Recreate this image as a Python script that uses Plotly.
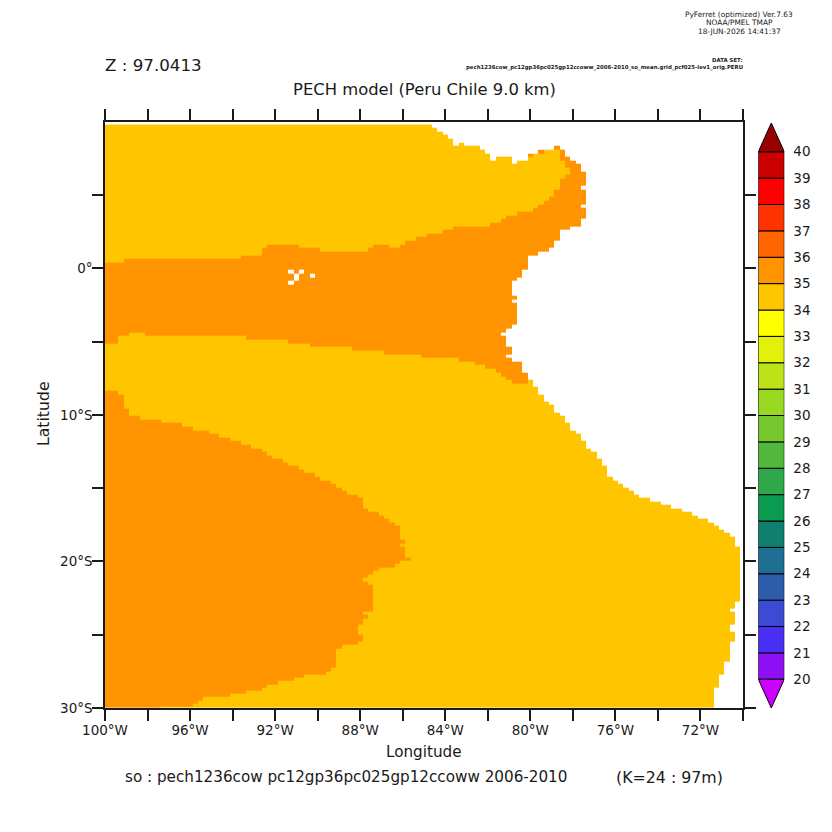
import numpy as np
import plotly.graph_objects as go

# ==========================
# DATA
# ==========================

# colour levels, 20-21 up to 39-40, plus the two end triangles
levels = list(range(20, 40))
level_colors = [
    "#9010f5", "#4a30f5", "#3c4bd4", "#2c5caa", "#1f6f94",
    "#0f8070", "#0a9a50", "#2ea84a", "#52b83e", "#76c82e",
    "#98d921", "#bde318", "#e3f00a", "#ffff00", "#ffc600",
    "#ff9400", "#ff6600", "#ff3300", "#ff0000", "#cc0000",
]
under_color = "#cc00ff"
over_color = "#990000"
bar_labels = list(range(20, 41))

SALT_LOW = 34.5
SALT_HIGH = 35.5

# north edge of the data, by longitude
north_lon = [-100, -84.625, -84.375, -84.125, -83.875, -83.625, -83.375, -83.125,
             -82.375, -82.125, -81.875, -81.625, -80.875, -80.625, -80.125, -79.625,
             -78.875, -78.625, -78.375, -78.125, -77.875, -77.625]
north_lat = [9.8, 9.59, 9.32, 9.11, 8.84, 8.36, 8.57, 8.36,
             8.09, 7.82, 7.34, 7.61, 7.14, 7.34, 7.82, 8.09,
             8.36, 8.09, 7.61, 7.34, 7.14, 6.59]

# east edge of the data (the coast), by latitude going south
coast_lat = [10, 5.64, 5.36, 4.34, 4.14, 3.39, 2.84, 2.64, 1.89, 1.41, 1.14, 0.86,
             -0.09, -0.64, -0.84, -1.86, -2.14, -2.34, -3.84, -4.11, -4.39, -4.59,
             -5.34, -5.89, -6.09, -6.36, -7.11, -7.59, -8.07, -8.61, -9.09, -9.30,
             -9.84, -10.05, -10.52, -11.07, -11.27, -11.75, -12.30, -12.50, -12.98,
             -13.45, -14.20, -14.48, -14.68, -14.95, -15.16, -15.43, -15.64, -15.91,
             -16.11, -16.39, -16.59, -16.86, -17.07, -17.34, -17.55, -17.82, -18.02,
             -18.30, -18.98, -22.73, -23.20, -23.41, -24.30, -24.77, -25.45, -26.82,
             -27.70, -28.59]
coast_lon = [-77.375, -77.625, -77.375, -77.625, -77.375, -77.625, -78.125, -78.625,
             -78.875, -79.125, -79.625, -80.125, -80.375, -80.625, -80.875, -80.625,
             -80.875, -80.625, -80.875, -81.125, -81.375, -81.125, -80.875, -81.125,
             -80.875, -80.375, -80.125, -79.875, -79.625, -79.375, -79.125, -78.875,
             -78.625, -78.375, -78.125, -77.875, -77.625, -77.375, -77.125, -76.875,
             -76.625, -76.375, -76.125, -75.875, -75.625, -75.375, -75.125, -74.875,
             -74.375, -73.875, -73.375, -72.875, -72.375, -72.125, -71.625, -71.375,
             -71.125, -70.875, -70.625, -70.375, -70.125, -70.375, -70.625, -70.375,
             -70.625, -70.375, -70.625, -70.875, -71.125, -71.375]

# saltier band around the equator, top and bottom by longitude
band_top_lon = [-100, -99.125, -93.625, -92.625, -92.375, -90.875, -89.875, -87.625,
                -87.375, -86.625, -86.125, -85.875, -85.375, -84.875, -84.125, -83.625,
                -81.875, -81.375, -81.125, -80.625, -79.875, -79.625, -79.375, -79.125,
                -78.875, -78.625, -78.375, -78.125]
band_top_lat = [0.39, 0.66, 0.86, 1.41, 1.61, 1.41, 1.14, 1.41,
                1.61, 1.41, 1.61, 1.89, 2.16, 2.36, 2.64, 2.84,
                3.11, 3.39, 3.59, 3.86, 4.14, 4.34, 4.61, 4.89,
                5.36, 6.11, 6.39, 10]
band_bottom_lon = [-100, -99.375, -98.875, -98.125, -93.375, -91.375, -90.375, -88.375,
                   -86.875, -85.125, -83.375, -82.625, -82.125, -81.625, -81.375,
                   -81.125, -80.875, -80.125]
band_bottom_lat = [-5.14, -4.59, -4.39, -4.59, -4.86, -5.14, -5.34, -5.61,
                   -5.89, -6.09, -6.36, -6.57, -6.84, -7.11, -7.39,
                   -7.59, -7.86, -7.59]

# saltier cells sitting on the north coast, north of this latitude (99 = none)
cap_lon = [-100, -80.125, -79.875, -79.625, -79.375, -78.875, -78.625, -78.375, -78.125]
cap_lat = [99, 7.61, 99, 7.82, 99, 8.09, 7.34, 6.86, 99]

# saltier tongue in the south west, east edge by latitude going south
tongue_lat = [-8.34, -8.61, -9.57, -10.05, -10.32, -10.52, -10.80, -11.07, -11.27, -11.55,
              -11.75, -12.02, -12.30, -12.50, -12.77, -12.98, -13.25, -13.45, -13.73,
              -13.93, -14.20, -14.48, -14.68, -14.95, -15.16, -15.43, -15.64, -16.39,
              -16.59, -16.86, -17.07, -17.34, -17.55, -18.50, -18.77, -18.98, -19.73,
              -19.93, -20.14, -20.41, -20.61, -20.89, -21.09, -21.36, -21.57, -23.41,
              -23.61, -23.89, -24.30, -24.98, -25.45, -25.66, -25.93, -27.23, -27.50,
              -27.70, -27.91, -28.11, -28.39, -28.59, -28.80, -29.00, -29.20, -29.48,
              -29.68, -29.89]
tongue_lon = [-99.375, -99.125, -98.875, -98.375, -97.375, -96.375, -95.875, -95.125,
              -94.625, -94.125, -93.625, -93.125, -92.625, -92.375, -92.125, -91.625,
              -91.375, -90.875, -90.625, -90.125, -89.875, -89.375, -89.125, -88.875,
              -88.625, -88.125, -87.875, -87.625, -87.125, -86.875, -86.625, -86.375,
              -86.125, -85.875, -86.125, -85.875, -85.625, -86.125, -86.375, -87.125,
              -87.375, -87.625, -87.875, -87.625, -87.375, -87.875, -87.625, -87.875,
              -88.125, -87.875, -88.125, -88.875, -89.125, -89.375, -89.625, -90.625,
              -91.125, -91.875, -92.375, -92.625, -93.375, -94.125, -95.375, -95.625,
              -95.875, -97.375]

# missing cells in the open ocean
hole_west = [-91.375, -90.875, -91.125, -90.375, -91.375]
hole_east = [-91.125, -90.625, -90.875, -90.125, -91.125]
hole_north = [-0.09, -0.09, -0.36, -0.36, -0.84]
hole_south = [-0.36, -0.36, -0.84, -0.64, -1.11]

# axis ticks
lon_ticks = list(range(-100, -69, 2))
lon_labels = ["100°W", "", "96°W", "", "92°W", "", "88°W", "", "84°W", "", "80°W", "",
              "76°W", "", "72°W", ""]
lat_ticks = [-30, -25, -20, -15, -10, -5, 0, 5]
lat_labels = ["30°S", "", "20°S", "", "10°S", "", "0°", ""]

# ==========================
# BUILD THE GRID
# ==========================


def step_east(lons, starts, values):
    starts = np.array(starts)
    values = np.array(values)
    return values[np.searchsorted(starts, lons, side="right") - 1]


def step_south(lats, starts, values):
    # starts run north to south
    starts = -np.array(starts)
    values = np.array(values)
    idx = np.searchsorted(starts, -lats, side="right") - 1
    return values[np.clip(idx, 0, None)], idx >= 0


x_edges = np.unique(north_lon + coast_lon + band_top_lon + band_bottom_lon + cap_lon
                    + tongue_lon + hole_west + hole_east + [-70])
y_edges = np.unique(north_lat + coast_lat + band_top_lat + band_bottom_lat
                    + [c for c in cap_lat if c < 99] + tongue_lat
                    + hole_north + hole_south + [-30])
y_edges = y_edges[y_edges <= 9.8]
x_mid = (x_edges[:-1] + x_edges[1:]) / 2
y_mid = (y_edges[:-1] + y_edges[1:]) / 2

lon, lat = np.meshgrid(x_mid, y_mid)
z = np.full(lon.shape, SALT_LOW)

band = (lat < step_east(lon, band_top_lon, band_top_lat)) & (
    lat > step_east(lon, band_bottom_lon, band_bottom_lat))
z[band] = SALT_HIGH
z[lat > step_east(lon, cap_lon, cap_lat)] = SALT_HIGH

tongue_east, in_tongue = step_south(lat, tongue_lat, tongue_lon)
z[in_tongue & (lon < tongue_east)] = SALT_HIGH

coast_east, _ = step_south(lat, coast_lat, coast_lon)
z[lon > coast_east] = np.nan
z[lat > step_east(lon, north_lon, north_lat)] = np.nan

for w, e, n, s in zip(hole_west, hole_east, hole_north, hole_south):
    z[(lon > w) & (lon < e) & (lat < n) & (lat > s)] = np.nan

# stepped colour scale from the level colours
zmin, zmax = levels[0], levels[-1] + 1
colorscale = []
for lev, col in zip(levels, level_colors):
    colorscale.append([(lev - zmin) / (zmax - zmin), col])
    colorscale.append([(lev + 1 - zmin) / (zmax - zmin), col])

# ==========================
# FIGURE
# ==========================

W = H = 832
FONT = "DejaVu Sans"
INK = "#1a1a1a"

fig = go.Figure()

fig.add_trace(go.Heatmap(x=x_edges, y=y_edges, z=z, zmin=zmin, zmax=zmax,
                         colorscale=colorscale, showscale=False, hoverongaps=False))

# colour key
fig.add_trace(go.Bar(x=[0.5] * len(levels), y=[1] * len(levels), base=levels, width=1,
                     marker=dict(color=level_colors, line=dict(color="black", width=1)),
                     xaxis="x2", yaxis="y2", showlegend=False))
fig.add_trace(go.Scatter(x=[0, 1, 0.5, 0], y=[40, 40, 41.09, 40], mode="lines", fill="toself",
                         fillcolor=over_color, line=dict(color="black", width=1),
                         xaxis="x2", yaxis="y2", showlegend=False))
fig.add_trace(go.Scatter(x=[0, 1, 0.5, 0], y=[20, 20, 18.91, 20], mode="lines", fill="toself",
                         fillcolor=under_color, line=dict(color="black", width=1),
                         xaxis="x2", yaxis="y2", showlegend=False))


def text(x, y, s, size, anchor="left", angle=0, color=INK):
    fig.add_annotation(x=x / W, y=1 - y / H, xref="paper", yref="paper", text=s,
                       showarrow=False, xanchor=anchor, yanchor="middle", textangle=angle,
                       font=dict(family=FONT, size=size, color=color))


text(103, 65, "Z : 97.0413", 16.7)
text(424, 89, "PECH model (Peru Chile 9.0 km)", 16.4, "center")
text(739, 14, "PyFerret (optimized) Ver.7.63", 7.4, "center")
text(739, 23, "NOAA/PMEL TMAP", 7.4, "center")
text(739, 32, "18-JUN-2026 14:41:37", 7.4, "center")
text(745, 60, "<b>DATA SET:</b>", 5.4, "right")
text(745, 67, "<b>pech1236cow_pc12gp36pc025gp12ccoww_2006-2010_so_mean.grid_pcf025-lev1_orig.PERU</b>",
     5.4, "right")
text(424, 752, "Longitude", 15.2, "center")
text(43, 414, "Latitude", 15.7, "center", angle=-90)
text(123, 777, "so : pech1236cow pc12gp36pc025gp12ccoww 2006-2010", 15.2)
text(614, 777, "(K=24 : 97m)", 15.8)

axis_line = dict(showline=True, linecolor=INK, linewidth=1.5, mirror="ticks", ticks="outside",
                 ticklen=11, tickwidth=1.5, tickcolor=INK, showgrid=False, zeroline=False,
                 automargin=False, tickfont=dict(family=FONT, size=13.5, color=INK))

fig.update_layout(
    width=W,
    height=H,
    margin=dict(l=0, r=0, t=0, b=0),
    paper_bgcolor="white",
    plot_bgcolor="white",
    showlegend=False,
    barmode="overlay",
    xaxis=dict(domain=[105 / W, 743 / W], range=[-100, -70], tickmode="array",
               tickvals=lon_ticks, ticktext=lon_labels, ticklabelstandoff=-2, **axis_line),
    yaxis=dict(domain=[1 - 708 / H, 1 - 121.7 / H], range=[-30, 10], tickmode="array",
               tickvals=lat_ticks, ticktext=lat_labels, ticklabelstandoff=-3, **axis_line),
    xaxis2=dict(domain=[758.3 / W, 784.3 / W], range=[0, 1], visible=False, anchor="y2",
                automargin=False),
    yaxis2=dict(domain=[1 - 708 / H, 1 - 123 / H], range=[18.91, 41.09], anchor="x2",
                side="right", tickmode="array", tickvals=bar_labels, showgrid=False,
                zeroline=False, showline=False, ticks="", ticklabelstandoff=8, automargin=False,
                tickfont=dict(family=FONT, size=13.5, color=INK)),
)

fig.write_html("out.html", post_script="document.body.style.margin = '0';",
               config={"displayModeBar": False})
